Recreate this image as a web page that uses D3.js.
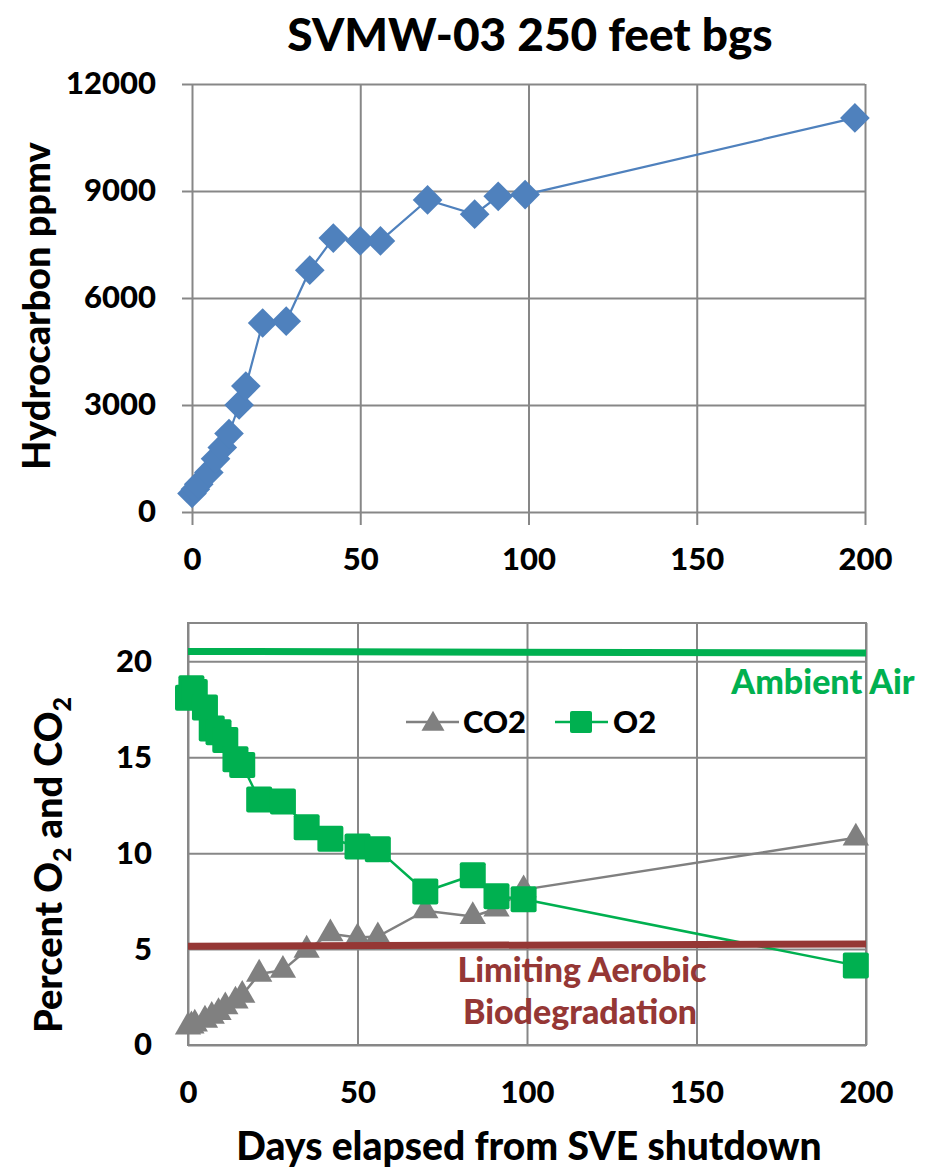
<!DOCTYPE html>
<html>
<head>
<meta charset="utf-8">
<script src="https://cdn.jsdelivr.net/npm/d3@7"></script>
<style>
  body { margin: 0; background: #fff; }
  text { font-family: Lato, "Open Sans", sans-serif; font-weight: 900; }
</style>
</head>
<body>
<div id="chart"></div>
<script>
// data
var days = [0, 1, 2, 5, 7, 9, 11, 14, 16, 21, 28, 35, 42, 50, 56, 70, 84, 91, 99, 197];
var hydrocarbon = [520, 640, 780, 1110, 1490, 1810, 2200, 3000, 3530, 5300, 5350, 6780, 7680, 7600, 7600, 8750, 8350, 8850, 8900, 11050];
var o2 = [18.1, 18.6, 18.4, 17.6, 16.5, 16.3, 15.9, 14.9, 14.6, 12.8, 12.7, 11.35, 10.75, 10.35, 10.2, 8.0, 8.85, 7.75, 7.6, 4.15];
var co2 = [0.95, 1.0, 1.1, 1.3, 1.5, 1.7, 2.0, 2.3, 2.6, 3.7, 3.9, 4.95, 5.8, 5.6, 5.65, 7.0, 6.7, 7.1, 8.1, 10.8];
var refDays = [0, 200];
var ambientAir = [20.52, 20.43];
var limitingAerobic = [5.15, 5.27];
var xTicks = [0, 50, 100, 150, 200];
var hcTicks = [0, 3000, 6000, 9000, 12000];
var pctTicks = [0, 5, 10, 15, 20];

var W = 932, H = 1167;
var gridColor = "#878787";
var fmt = d3.format("d");

var svg = d3.select("#chart").append("svg")
  .attr("width", W)
  .attr("height", H);

svg.append("text")
  .attr("x", 530)
  .attr("y", 51)
  .attr("text-anchor", "middle")
  .style("font-size", "46px")
  .text("SVMW-03 250 feet bgs");

// ---------- top chart ----------
var x1 = d3.scaleLinear().domain([0, 200]).range([192, 865]);
var y1 = d3.scaleLinear().domain([0, 12000]).range([512, 84]);

// horizontal grid (with small outside ticks)
svg.append("g")
  .attr("transform", "translate(182,0)")
  .call(d3.axisLeft(y1).tickValues(hcTicks).tickSize(-(865 - 182)).tickFormat(""))
  .call(function(g) { g.select(".domain").remove(); });

// vertical grid (extends below the axis as ticks)
svg.append("g")
  .attr("transform", "translate(0,525)")
  .call(d3.axisBottom(x1).tickValues(xTicks).tickSize(-(525 - 84)).tickFormat(""))
  .call(function(g) { g.select(".domain").remove(); });

svg.selectAll("g .tick line")
  .attr("stroke", gridColor)
  .attr("stroke-width", 2);

// tick labels
svg.append("g")
  .attr("transform", "translate(192,0)")
  .call(d3.axisLeft(y1).tickValues(hcTicks).tickFormat(fmt).tickSize(0).tickPadding(36))
  .call(function(g) { g.select(".domain").remove(); })
  .selectAll("text").style("font-size", "31px").attr("fill", "#000");

svg.append("g")
  .attr("transform", "translate(0,512)")
  .call(d3.axisBottom(x1).tickValues(xTicks).tickSize(0).tickPadding(36))
  .call(function(g) { g.select(".domain").remove(); })
  .selectAll("text").style("font-size", "31px").attr("fill", "#000");

svg.append("text")
  .attr("transform", "translate(50,306) rotate(-90)")
  .attr("text-anchor", "middle")
  .style("font-size", "38px")
  .text("Hydrocarbon ppmv");

var hcData = days.map(function(d, i) { return {day: d, v: hydrocarbon[i]}; });

svg.append("path")
  .datum(hcData)
  .attr("fill", "none")
  .attr("stroke", "#4F81BD")
  .attr("stroke-width", 2.2)
  .attr("d", d3.line().x(function(d) { return x1(d.day); }).y(function(d) { return y1(d.v); }));

svg.append("g").selectAll("path")
  .data(hcData)
  .enter().append("path")
  .attr("d", d3.symbol().type(d3.symbolSquare).size(440))
  .attr("transform", function(d) { return "translate(" + x1(d.day) + "," + y1(d.v) + ") rotate(45)"; })
  .attr("fill", "#4F81BD");

// ---------- bottom chart ----------
var x2 = d3.scaleLinear().domain([0, 200]).range([188, 866]);
var y2 = d3.scaleLinear().domain([0, 22]).range([1045, 623]);

var grid2 = svg.append("g");
grid2.append("g")
  .attr("transform", "translate(188,0)")
  .call(d3.axisLeft(y2).tickValues(pctTicks).tickSize(-(866 - 188)).tickFormat(""))
  .call(function(g) { g.select(".domain").remove(); });
grid2.append("g")
  .attr("transform", "translate(0,1045)")
  .call(d3.axisBottom(x2).tickValues(xTicks).tickSize(-(1045 - 623)).tickFormat(""))
  .call(function(g) { g.select(".domain").remove(); });
grid2.append("rect")
  .attr("x", 188).attr("y", 623)
  .attr("width", 866 - 188).attr("height", 1045 - 623)
  .attr("fill", "none")
  .attr("stroke", gridColor)
  .attr("stroke-width", 2);
grid2.selectAll(".tick line")
  .attr("stroke", gridColor)
  .attr("stroke-width", 2);

svg.append("g")
  .attr("transform", "translate(188,0)")
  .call(d3.axisLeft(y2).tickValues(pctTicks).tickFormat(fmt).tickSize(0).tickPadding(36))
  .call(function(g) { g.select(".domain").remove(); })
  .selectAll("text").style("font-size", "31px").attr("fill", "#000");

svg.append("g")
  .attr("transform", "translate(0,1045)")
  .call(d3.axisBottom(x2).tickValues(xTicks).tickSize(0).tickPadding(36))
  .call(function(g) { g.select(".domain").remove(); })
  .selectAll("text").style("font-size", "31px").attr("fill", "#000");

var yt = svg.append("text")
  .attr("transform", "translate(62,865) rotate(-90)")
  .attr("text-anchor", "middle")
  .style("font-size", "38px");
yt.append("tspan").text("Percent O");
yt.append("tspan").attr("dy", 9).style("font-size", "25px").text("2");
yt.append("tspan").attr("dy", -9).text(" and CO");
yt.append("tspan").attr("dy", 9).style("font-size", "25px").text("2");

svg.append("text")
  .attr("x", 529)
  .attr("y", 1160)
  .attr("text-anchor", "middle")
  .style("font-size", "39px")
  .text("Days elapsed from SVE shutdown");

var co2Data = days.map(function(d, i) { return {day: d, v: co2[i]}; });
var o2Data = days.map(function(d, i) { return {day: d, v: o2[i]}; });
var line2 = d3.line().x(function(d) { return x2(d.day); }).y(function(d) { return y2(d.v); });

svg.append("path")
  .datum(co2Data)
  .attr("fill", "none")
  .attr("stroke", "#808080")
  .attr("stroke-width", 2.5)
  .attr("d", line2);
svg.append("g").selectAll("path")
  .data(co2Data)
  .enter().append("path")
  .attr("d", d3.symbol().type(d3.symbolTriangle).size(300))
  .attr("transform", function(d) { return "translate(" + x2(d.day) + "," + y2(d.v) + ")"; })
  .attr("fill", "#808080");

svg.append("path")
  .datum(o2Data)
  .attr("fill", "none")
  .attr("stroke", "#00B050")
  .attr("stroke-width", 2.5)
  .attr("d", line2);
svg.append("g").selectAll("rect")
  .data(o2Data)
  .enter().append("rect")
  .attr("x", function(d) { return x2(d.day) - 13; })
  .attr("y", function(d) { return y2(d.v) - 13; })
  .attr("width", 26).attr("height", 26)
  .attr("rx", 2)
  .attr("fill", "#00B050");

// reference lines
var ambData = refDays.map(function(d, i) { return {day: d, v: ambientAir[i]}; });
var limData = refDays.map(function(d, i) { return {day: d, v: limitingAerobic[i]}; });
svg.append("path").datum(ambData)
  .attr("fill", "none").attr("stroke", "#00B050").attr("stroke-width", 7)
  .attr("d", line2);
svg.append("path").datum(limData)
  .attr("fill", "none").attr("stroke", "#953735").attr("stroke-width", 7)
  .attr("d", line2);

svg.append("text")
  .attr("x", 823).attr("y", 694)
  .attr("text-anchor", "middle")
  .attr("fill", "#00B050")
  .style("font-size", "34px")
  .text("Ambient Air");

svg.append("text")
  .attr("x", 582).attr("y", 982)
  .attr("text-anchor", "middle")
  .attr("fill", "#953735")
  .style("font-size", "34px")
  .text("Limiting Aerobic");
svg.append("text")
  .attr("x", 580).attr("y", 1024)
  .attr("text-anchor", "middle")
  .attr("fill", "#953735")
  .style("font-size", "34px")
  .text("Biodegradation");

// legend
var legend = svg.append("g");
legend.append("line")
  .attr("x1", 406).attr("x2", 459).attr("y1", 722).attr("y2", 722)
  .attr("stroke", "#808080").attr("stroke-width", 2.5);
legend.append("path")
  .attr("d", d3.symbol().type(d3.symbolTriangle).size(230))
  .attr("transform", "translate(433,724)")
  .attr("fill", "#808080");
legend.append("text")
  .attr("x", 463).attr("y", 733)
  .style("font-size", "31px")
  .text("CO2");
legend.append("line")
  .attr("x1", 555).attr("x2", 608).attr("y1", 722).attr("y2", 722)
  .attr("stroke", "#00B050").attr("stroke-width", 2.5);
legend.append("rect")
  .attr("x", 570).attr("y", 711).attr("width", 22).attr("height", 22).attr("rx", 2)
  .attr("fill", "#00B050");
legend.append("text")
  .attr("x", 613).attr("y", 733)
  .style("font-size", "31px")
  .text("O2");
</script>
</body>
</html>
